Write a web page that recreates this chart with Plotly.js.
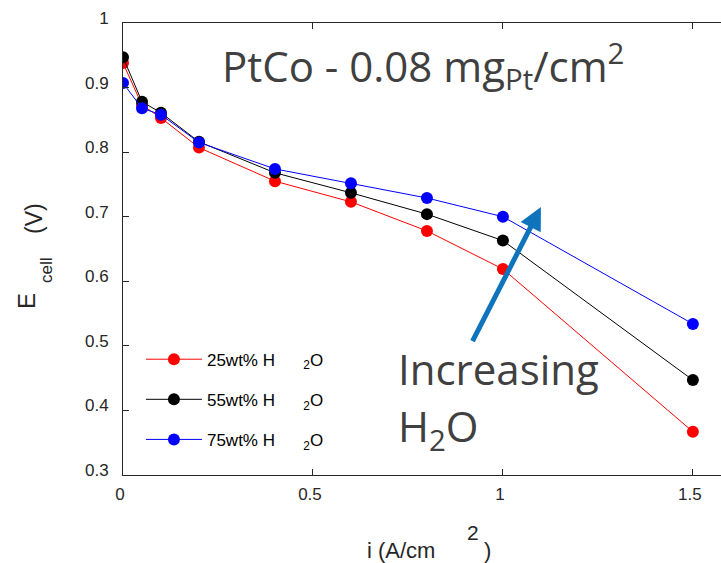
<!DOCTYPE html>
<html>
<head>
<meta charset="utf-8">
<script src="https://cdn.plot.ly/plotly-3.0.1.min.js"></script>
<style>html,body{margin:0;padding:0;background:#fff;}#chart{width:721px;height:563px;}</style>
</head>
<body>
<div id="chart"></div>
<script>
var currentDensity = [0, 0.05, 0.1, 0.2, 0.4, 0.6, 0.8, 1.0, 1.5];
var ecell25 = [0.938, 0.873, 0.853, 0.807, 0.755, 0.723, 0.678, 0.619, 0.367];
var ecell55 = [0.947, 0.878, 0.861, 0.816, 0.768, 0.737, 0.704, 0.663, 0.447];
var ecell75 = [0.907, 0.868, 0.858, 0.815, 0.774, 0.752, 0.729, 0.700, 0.534];
var seriesNames = ["25wt% H&nbsp;&nbsp;&nbsp;&nbsp;&nbsp;&nbsp;<sub>2</sub>O",
                   "55wt% H&nbsp;&nbsp;&nbsp;&nbsp;&nbsp;&nbsp;<sub>2</sub>O",
                   "75wt% H&nbsp;&nbsp;&nbsp;&nbsp;&nbsp;&nbsp;<sub>2</sub>O"];
var seriesColors = ["#ff0000", "#000000", "#0000ff"];
var xTicks = [0, 0.5, 1, 1.5];
var yTicks = [0.3, 0.4, 0.5, 0.6, 0.7, 0.8, 0.9, 1];
var arrowHead = {x: 1.10, y: 0.715};
var arrowTail = {x: 0.918, y: 0.505};

var ys = [ecell25, ecell55, ecell75];
var traces = ys.map(function(y, i){
  return {
    x: currentDensity, y: y, type: 'scatter', mode: 'lines+markers',
    name: seriesNames[i], legendgroup: 'g' + i,
    line: {color: seriesColors[i], width: 1},
    marker: {color: seriesColors[i], size: 12}
  };
});

var sans = 'Liberation Sans, Arial, sans-serif';
var tickFont = {family: sans, size: 17, color: '#262626'};
var bigFont = {family: 'Open Sans, sans-serif', size: 42, color: '#404040'};
function px(x){ return (x - 123) / 598; }
function py(y){ return (475 - y) / 452; }
function label(text, x, y, size, angle){
  return {xref: 'paper', yref: 'paper', x: px(x), y: py(y), text: text, showarrow: false,
          xanchor: 'center', yanchor: 'middle', textangle: angle || 0,
          font: {family: sans, size: size, color: '#262626'}};
}
var layout = {
  width: 721, height: 563,
  margin: {l: 123, r: 0, t: 23, b: 88},
  paper_bgcolor: '#fff', plot_bgcolor: '#fff',
  showlegend: true,
  legend: {x: 0.03, y: 0.295, xanchor: 'left', yanchor: 'top', bgcolor: 'rgba(0,0,0,0)',
           font: {family: sans, size: 17, color: '#000'},
           itemwidth: 56, tracegroupgap: 15},
  xaxis: {range: [0, 1.574], tickvals: xTicks, ticks: 'inside', ticklen: 6, tickcolor: '#262626',
          showline: true, linecolor: '#262626', linewidth: 1, mirror: 'ticks', showgrid: false,
          zeroline: false, tickfont: tickFont, ticklabelstandoff: 4, ticklabelshift: -3},
  yaxis: {range: [0.3, 1.0], tickvals: yTicks, ticks: 'inside', ticklen: 6, tickcolor: '#262626',
          showline: true, linecolor: '#262626', linewidth: 1, mirror: false, showgrid: false,
          zeroline: false, tickfont: tickFont, ticklabelstandoff: 10, ticklabelshift: -5},
  annotations: [
    label('i (A/cm', 401, 550, 22),
    label('2', 473, 532, 21),
    label(')', 487, 550, 22),
    label('E', 26, 301, 24, -90),
    label('cell', 46, 270, 17, -90),
    label('(V)', 34, 219, 23, -90),
    {xref: 'paper', yref: 'paper', x: px(423), y: py(66), text: 'PtCo - 0.08 mg<sub>Pt</sub>/cm<sup>2</sup>',
     showarrow: false, xanchor: 'center', yanchor: 'middle', font: bigFont},
    {xref: 'paper', yref: 'paper', x: px(396), y: py(368), text: 'Increasing',
     showarrow: false, xanchor: 'left', yanchor: 'middle', font: bigFont},
    {xref: 'paper', yref: 'paper', x: px(396), y: py(428), text: 'H<sub>2</sub>O',
     showarrow: false, xanchor: 'left', yanchor: 'middle', font: bigFont},
    {x: arrowHead.x, y: arrowHead.y, ax: arrowTail.x, ay: arrowTail.y, xref: 'x', yref: 'y',
     axref: 'x', ayref: 'y', text: '', showarrow: true, arrowhead: 2, arrowsize: 0.9,
     arrowwidth: 5, arrowcolor: '#0f74bb'}
  ]
};
Plotly.newPlot('chart', traces, layout, {displayModeBar: false, staticPlot: true});
</script>
</body>
</html>
